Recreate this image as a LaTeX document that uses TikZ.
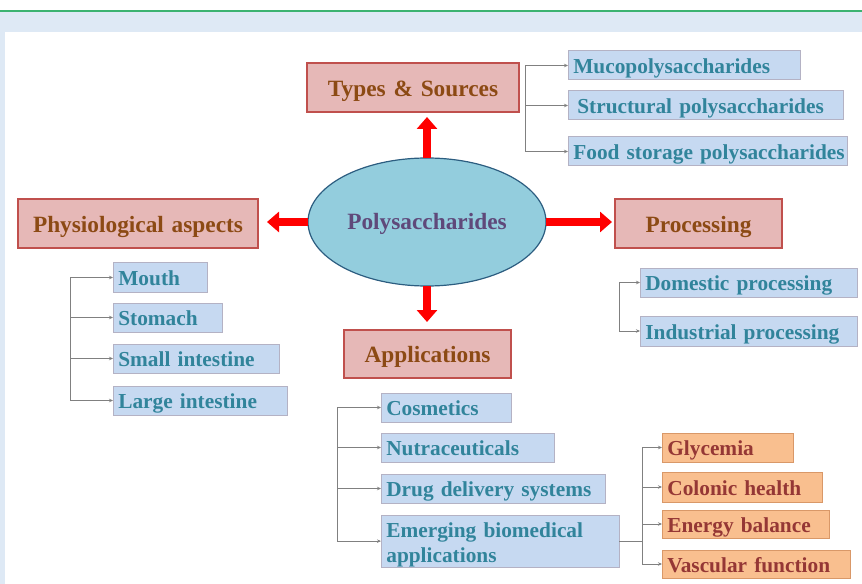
\documentclass[tikz,border=0pt]{standalone}
\usepackage{fontspec}
\setmainfont{Liberation Serif}
\usetikzlibrary{shapes.geometric,arrows.meta}
\definecolor{bandcol}{HTML}{DEE9F5}
\definecolor{greenline}{HTML}{3CB371}
\definecolor{hdrfill}{HTML}{E6B8B7}
\definecolor{hdrline}{HTML}{C0504D}
\definecolor{hdrtext}{HTML}{8C4A14}
\definecolor{bluefill}{HTML}{C6D9F1}
\definecolor{blueline}{HTML}{B4B2C4}
\definecolor{bluetext}{HTML}{31849B}
\definecolor{orfill}{HTML}{F9BF8F}
\definecolor{orline}{HTML}{D99868}
\definecolor{ortext}{HTML}{953735}
\definecolor{ellfill}{HTML}{93CDDD}
\definecolor{ellline}{HTML}{2C5D80}
\definecolor{elltext}{HTML}{5F497A}
\definecolor{brkcol}{HTML}{808080}
\definecolor{arrred}{HTML}{FF0000}
\newcommand\mkbox[7]{%
  \pgfmathsetmacro\bw{(#5-#3)*0.75}%
  \pgfmathsetmacro\bh{(#6-#4)*0.75}%
  \pgfmathsetmacro\tw{\bw-8}%
  \node[#2, minimum width=\bw pt, minimum height=\bh pt, text width=\tw pt, anchor=north west] (#1) at (#3,#4) {#7};}
\begin{document}
\begin{tikzpicture}[x=0.75pt,y=-0.75pt,
  hdr/.style={draw=hdrline, fill=hdrfill, line width=0.9pt, text=hdrtext, font=\fontsize{17.5}{20}\selectfont\bfseries, align=center, inner xsep=4pt, inner ysep=0pt, outer sep=0pt, text height=14pt, text depth=1pt},
  sub/.style={line width=0.75pt, font=\fontsize{16}{18.75}\selectfont\bfseries, align=left, inner xsep=4pt, inner ysep=0pt, outer sep=0pt},
  onel/.style={text height=13pt, text depth=0.5pt},
  bluebox/.style={sub, onel, draw=blueline, fill=bluefill, text=bluetext},
  blueboxml/.style={sub, draw=blueline, fill=bluefill, text=bluetext},
  orbox/.style={sub, onel, draw=orline, fill=orfill, text=ortext},
  brk/.style={draw=brkcol, line width=0.6pt},
  brka/.style={brk, -{Stealth[length=3pt,width=2.6pt]}},
  bigarrow/.style={draw=arrred, line width=6pt, -{Triangle[width=15pt,length=9pt]}},
]
\useasboundingbox (0,0) rectangle (862,584);
% frame
\fill[bandcol] (0,12) rectangle (862,32);
\fill[bandcol] (0,12) rectangle (5,584);
\draw[greenline, line width=1.5pt] (0,11) -- (862,11);

% centre
\node[ellipse, draw=ellline, fill=ellfill, line width=0.9pt, minimum width=178.5pt, minimum height=96pt, inner sep=0pt, outer sep=0pt, text=elltext, font=\fontsize{17.5}{20}\selectfont\bfseries, text height=13pt, text depth=1.5pt] (ell) at (427,222) {Polysaccharides};

% headers
\mkbox{types}{hdr}{307}{63}{519}{112}{Types \& Sources}
\mkbox{phys}{hdr}{18}{199}{258}{248}{Physiological aspects}
\mkbox{proc}{hdr}{615}{199}{782}{248}{Processing}
\mkbox{appl}{hdr}{344}{330}{511}{378}{Applications}

% types & sources
\mkbox{muco}{bluebox}{568}{51}{800}{80}{Mucopolysaccharides}
\mkbox{struct}{bluebox}{568}{91}{843}{120}{\hspace{3pt}Structural polysaccharides}
\mkbox{food}{bluebox}{568}{137}{847}{166}{\mbox{Food storage polysaccharides}}

% physiological
\mkbox{mouth}{bluebox}{113}{263}{207}{292}{Mouth}
\mkbox{stomach}{bluebox}{113}{303}{222}{332}{Stomach}
\mkbox{small}{bluebox}{113}{344}{279}{373}{Small intestine}
\mkbox{large}{bluebox}{113}{386}{287}{415}{Large intestine}

% processing
\mkbox{domestic}{bluebox}{640}{268}{857}{297}{Domestic processing}
\mkbox{industrial}{bluebox}{640}{316}{857}{346}{Industrial processing}

% applications
\mkbox{cosm}{bluebox}{381}{393}{511}{422}{Cosmetics}
\mkbox{nutra}{bluebox}{381}{433}{554}{462}{Nutraceuticals}
\mkbox{drug}{bluebox}{381}{474}{605}{503}{Drug delivery systems}
\mkbox{emerg}{blueboxml}{381}{515}{619}{567}{\rule{0pt}{17pt}Emerging biomedical\\applications}

% biomedical effects
\mkbox{glyc}{orbox}{662}{433}{793}{462}{Glycemia}
\mkbox{colon}{orbox}{662}{472}{822}{502}{Colonic health}
\mkbox{energy}{orbox}{662}{510}{829}{538}{Energy balance}
\mkbox{vasc}{orbox}{662}{550}{850}{578}{Vascular function}

% big red arrows
\draw[bigarrow, shorten >=3.75pt] (ell.north) -- (ell.north |- types.south);
\draw[bigarrow, shorten >=6.75pt] (ell.west) -- (ell.west -| phys.east);
\draw[bigarrow, shorten >=2.25pt] (ell.east) -- (ell.east -| proc.west);
\draw[bigarrow, shorten >=6pt] (ell.south) -- (ell.south |- appl.north);

% brackets
\coordinate (tx) at (525,0);
\draw[brk] (muco.west -| tx) -- (food.west -| tx);
\foreach \b in {muco,struct,food} \draw[brka] (\b.west -| tx) -- (\b.west);

\coordinate (px) at (70,0);
\draw[brk] (mouth.west -| px) -- (large.west -| px);
\foreach \b in {mouth,stomach,small,large} \draw[brka] (\b.west -| px) -- (\b.west);

\coordinate (dx) at (619,0);
\draw[brk] (domestic.west -| dx) -- (industrial.west -| dx);
\foreach \b in {domestic,industrial} \draw[brka] (\b.west -| dx) -- (\b.west);

\coordinate (ax) at (337,0);
\draw[brk] (cosm.west -| ax) -- (emerg.west -| ax);
\foreach \b in {cosm,nutra,drug,emerg} \draw[brka] (\b.west -| ax) -- (\b.west);

\coordinate (ox) at (642,0);
\draw[brk] (emerg.east) -- (emerg.east -| ox);
\draw[brk] (glyc.west -| ox) -- (vasc.west -| ox);
\foreach \b in {glyc,colon,energy,vasc} \draw[brka] (\b.west -| ox) -- (\b.west);
\end{tikzpicture}
\end{document}
